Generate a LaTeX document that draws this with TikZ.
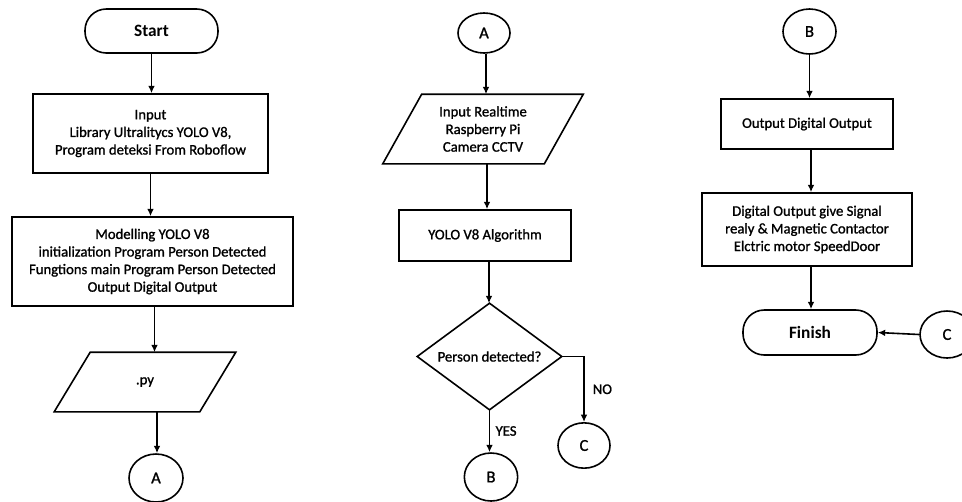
\documentclass[tikz,border=0pt]{standalone}
\usepackage{fontspec}
\setmainfont{Carlito}[UprightFeatures={FakeBold=1.2}]
\usetikzlibrary{arrows.meta,shapes.geometric}
\tikzset{
  base/.style={line width=1.2pt, font=\fontsize{11}{13.2}\selectfont, align=center, inner sep=0pt},
  procbox/.style={base, draw, rectangle},
  termbox/.style={base, draw, rectangle, rounded corners=16pt, font=\fontsize{13}{15}\selectfont\bfseries},
  conn/.style={base, draw, ellipse, font=\fontsize{12.5}{15}\selectfont},
  ghost/.style={base, draw=none, rectangle},
  shapeline/.style={line width=1.2pt, line join=miter},
  arr/.style={line width=1.2pt, -{Latex[length=5.5pt,width=5pt]}},
  lbl/.style={font=\fontsize{11}{13.2}\selectfont, inner sep=0pt}
}
\begin{document}
\begin{tikzpicture}[x=0.75pt,y=-0.75pt]
\useasboundingbox (0,0) rectangle (962,501);
% ---------- left column ----------
\node[termbox, minimum width=99.75pt, minimum height=33pt] (start) at (151.5,31) {Start};
\node[procbox, minimum width=176.25pt, minimum height=59.25pt] (inp) at (150.5,133.5) {Input\\Library Ultralitycs YOLO V8,\\Program deteksi From Roboflow};
\node[procbox, minimum width=210.75pt, minimum height=66.75pt] (model) at (152.5,261.5) {Modelling YOLO V8\\initialization Program Person Detected\\Fungtions main Program Person Detected\\Output Digital Output};
\node[ghost, minimum width=108pt, minimum height=43.5pt] (py) at (145,382) {.py};
\draw[shapeline] ([xshift=13.5pt]py.north west) -- ([xshift=13.5pt]py.north east) -- ([xshift=-13.5pt]py.south east) -- ([xshift=-13.5pt]py.south west) -- cycle;
\node[conn, minimum width=40.5pt, minimum height=36pt] (a1) at (156,478) {A};
\draw[arr] (start.south) -- (start.south |- inp.north);
\draw[arr] (inp.south) -- (inp.south |- model.north);
\draw[arr] ([xshift=1.5pt]model.south) -- ([xshift=1.5pt]model.south |- py.north);
\draw[arr] ([xshift=9pt]py.south) -- ([xshift=9pt]py.south |- a1.north);
% ---------- middle column ----------
\node[conn, minimum width=39pt, minimum height=30pt] (a2) at (484,33) {A};
\node[ghost, minimum width=120pt, minimum height=51pt] (cam) at (483,129) {Input Realtime\\Raspberry Pi\\Camera CCTV};
\draw[shapeline] ([xshift=14.6pt]cam.north west) -- ([xshift=14.6pt]cam.north east) -- ([xshift=-14.6pt]cam.south east) -- ([xshift=-14.6pt]cam.south west) -- cycle;
\node[procbox, minimum width=129pt, minimum height=38.25pt] (yolo) at (485,235.5) {YOLO V8 Algorithm};
\node[ghost, minimum width=107.25pt, minimum height=78.75pt] (dec) at (489.5,356.5) {Person detected?};
\draw[shapeline] (dec.north) -- (dec.east) -- (dec.south) -- (dec.west) -- cycle;
\node[conn, minimum width=39pt, minimum height=34pt] (c1) at (584,445.5) {C};
\node[conn, minimum width=40pt, minimum height=36pt] (b1) at (491,477) {B};
\draw[arr] ([xshift=1.5pt]a2.south) -- ([xshift=1.5pt]a2.south |- cam.north);
\draw[arr] ([xshift=3pt]cam.south) -- ([xshift=3pt]cam.south |- yolo.north);
\draw[arr] ([xshift=3pt]yolo.south) -- ([xshift=3pt]yolo.south |- dec.north);
\draw[arr] (dec.east) -| (c1.north) node[lbl, pos=0.75, right=6pt] {NO};
\draw[arr] (dec.south) -- (dec.south |- b1.north) node[lbl, pos=0.5, right=4pt] {YES};
% ---------- right column ----------
\node[conn, minimum width=39.75pt, minimum height=33.75pt] (b2) at (809.5,31.5) {B};
\node[procbox, minimum width=129pt, minimum height=37.5pt] (out) at (807,124) {Output Digital Output};
\node[procbox, minimum width=157.5pt, minimum height=54.75pt] (dig) at (807,229.5) {Digital Output give Signal\\realy \& Magnetic Contactor\\Elctric motor SpeedDoor};
\node[termbox, minimum width=100.5pt, minimum height=33.75pt] (fin) at (810,332.5) {Finish};
\node[conn, minimum width=40.5pt, minimum height=35.25pt] (c2) at (947,334.5) {C};
\draw[arr] (b2.south) -- (b2.south |- out.north);
\draw[arr] ([xshift=3pt]out.south) -- ([xshift=3pt]out.south |- dig.north);
\draw[arr] ([xshift=3pt]dig.south) -- ([xshift=3pt]dig.south |- fin.north);
\draw[arr] (c2.west) -- (fin.east);
\end{tikzpicture}
\end{document}
